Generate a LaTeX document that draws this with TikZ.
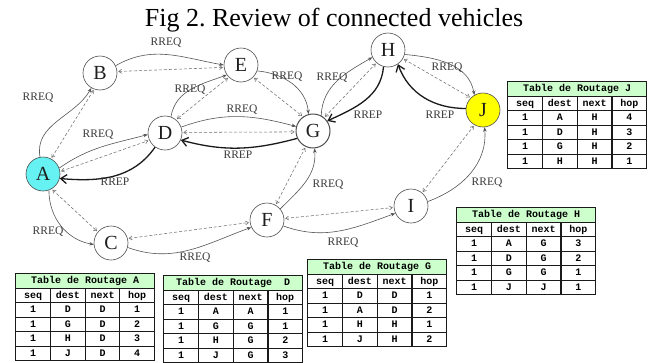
\documentclass[tikz,border=0pt]{standalone}
\usepackage{fontspec}
\setmainfont{Liberation Serif}
\newfontfamily\routefont{Liberation Mono}
\usepackage{array}
\usepackage{colortbl}
\usetikzlibrary{arrows.meta,calc,positioning}
\definecolor{ink}{HTML}{1E1E1E}
\definecolor{nodegrey}{HTML}{4D4D4D}
\definecolor{reqgrey}{HTML}{555555}
\definecolor{dashgrey}{HTML}{707070}
\definecolor{repblack}{HTML}{1A1A1A}
\definecolor{labelgrey}{HTML}{3A3A3A}
\definecolor{sourcecyan}{HTML}{66F2F2}
\definecolor{destyellow}{HTML}{FFFF00}
\definecolor{tablegreen}{HTML}{CCFFCC}
\definecolor{tablerule}{HTML}{1A1A1A}
\newcolumntype{C}{>{\centering\arraybackslash}p{33.5pt}}
\setlength{\tabcolsep}{0pt}
\setlength{\arrayrulewidth}{1.2pt}
\renewcommand{\arraystretch}{1.33}

\begin{document}
\begin{tikzpicture}[
  x=1pt,
  y=1pt,
  vnode/.style={
    circle,
    draw=nodegrey,
    line width=0.6pt,
    minimum size=34pt,
    inner sep=0pt,
    text=ink,
    font=\fontsize{20}{22}\selectfont
  },
  rreq/.style={
    -{Stealth[length=4.5pt,width=3.5pt]},
    draw=reqgrey,
    line width=0.6pt
  },
  probe/.style={
    {Straight Barb[length=3pt,width=4pt]}-{Straight Barb[length=3pt,width=4pt]},
    draw=dashgrey,
    dash pattern=on 3pt off 2pt,
    line width=0.55pt,
    shorten <=1pt,
    shorten >=1pt
  },
  rrep/.style={
    -{Straight Barb[length=6pt,width=9pt]},
    draw=repblack,
    line width=1.3pt
  },
  msg/.style={
    text=labelgrey,
    inner sep=1pt,
    font=\fontsize{11.5}{13}\selectfont
  },
  routetable/.style={
    anchor=north west,
    inner sep=0pt,
    font=\routefont\bfseries\fontsize{10}{10}\selectfont
  }
]

\path[use as bounding box,fill=white] (0,0) rectangle (651,-362);

\node[font=\fontsize{26}{28}\selectfont,anchor=base] (title) at (334,-26)
  {Fig 2.\ Review of connected vehicles};

\node[vnode,fill=sourcecyan] (A) at (43,-174) {A};
\node[vnode] (B) at (100,-73) {B};
\node[vnode] (C) at (111,-243) {C};
\node[vnode] (D) at (165,-133) {D};
\node[vnode] (E) at (241,-65) {E};
\node[vnode] (F) at (267,-220) {F};
\node[vnode,line width=1pt] (G) at (313,-131) {G};
\node[vnode] (H) at (388,-50) {H};
\node[vnode] (I) at (411,-206) {I};
\node[vnode,fill=destyellow] (J) at (483,-110) {J};

\draw[rreq] (A.100) to[out=100,in=240] (B.240);
\draw[probe] (B.250) -- (A.62);
\draw[rreq] (A.290) to[out=270,in=170] (C.185);
\draw[probe] (A.300) -- (C.140);
\draw[rreq] (A.20) to[out=35,in=195] (D.185);
\draw[probe] (A.8) -- (D.205);
\draw[rrep] (D.235) to[out=235,in=-5] (A.345);

\draw[rreq] (B.25) to[out=30,in=170] (E.180);
\draw[probe] (B.5) -- (E.188);

\draw[rreq] (D.70) to[out=80,in=200] (E.215);
\draw[probe] (E.225) -- (D.50);
\draw[rreq] (D.20) to[out=20,in=165] (G.165);
\draw[probe] (D.2) -- (G.183);
\draw[rrep] (G.205) to[out=195,in=-15] (D.336);

\draw[rreq] (E.340) to[out=-5,in=95] (G.105);
\draw[probe] (E.315) -- (G.125);

\draw[rreq] (G.62) to[out=88,in=210] (H.205);
\draw[probe] (G.50) -- (H.228);
\draw[rrep] (H.255) to[out=265,in=25] (G.35);

\draw[rreq] (H.345) to[out=-5,in=100] (J.120);
\draw[probe] (H.330) -- (J.135);
\draw[rrep] (J.175) to[out=180,in=-70] (H.305);

\draw[rreq] (C.345) to[out=-20,in=200] (F.205);
\draw[probe] (C.15) -- (F.188);
\draw[rreq] (F.40) to[out=45,in=275] (G.275);
\draw[probe] (F.60) -- (G.245);
\draw[rreq] (F.340) to[out=-20,in=200] (I.205);
\draw[probe] (F.5) -- (I.185);
\draw[rreq] (I.15) to[out=20,in=275] (J.275);
\draw[probe] (I.50) -- (J.240);

\node[msg] (qAB) at (38,-98) {RREQ};
\node[msg] (qAC) at (48,-232) {RREQ};
\node[msg] (qAD) at (98,-135) {RREQ};
\node[msg] (pDA) at (115,-182) {RREP};
\node[msg] (qBE) at (166,-43) {RREQ};
\node[msg] (qDE) at (190,-90) {RREQ};
\node[msg] (qEG) at (287,-77) {RREQ};
\node[msg] (qDG) at (242,-110) {RREQ};
\node[msg] (pGD) at (238,-155) {RREP};
\node[msg] (qGH) at (332,-78) {RREQ};
\node[msg] (pHG) at (368,-115) {RREP};
\node[msg] (qHJ) at (447,-68) {RREQ};
\node[msg] (pJH) at (440,-115) {RREP};
\node[msg] (qCF) at (195,-258) {RREQ};
\node[msg] (qFG) at (328,-185) {RREQ};
\node[msg] (qFI) at (343,-243) {RREQ};
\node[msg] (qIJ) at (487,-183) {RREQ};

\node[routetable] (tabJ) at (507,-81) {\arrayrulecolor{tablerule}%
  \begin{tabular}{|C|C|C|C|}
    \hline
    \multicolumn{4}{|c|}{\cellcolor{tablegreen}Table de Routage J}\\ \hline
    seq & dest & next & hop\\ \hline
    1 & A & H & 4\\ \hline
    1 & D & H & 3\\ \hline
    1 & G & H & 2\\ \hline
    1 & H & H & 1\\ \hline
  \end{tabular}};

\node[routetable] (tabH) at (456,-207) {\arrayrulecolor{tablerule}%
  \begin{tabular}{|C|C|C|C|}
    \hline
    \multicolumn{4}{|c|}{\cellcolor{tablegreen}Table de Routage H}\\ \hline
    seq & dest & next & hop\\ \hline
    1 & A & G & 3\\ \hline
    1 & D & G & 2\\ \hline
    1 & G & G & 1\\ \hline
    1 & J & J & 1\\ \hline
  \end{tabular}};

\node[routetable] (tabG) at (307,-259) {\arrayrulecolor{tablerule}%
  \begin{tabular}{|C|C|C|C|}
    \hline
    \multicolumn{4}{|c|}{\cellcolor{tablegreen}Table de Routage G}\\ \hline
    seq & dest & next & hop\\ \hline
    1 & D & D & 1\\ \hline
    1 & A & D & 2\\ \hline
    1 & H & H & 1\\ \hline
    1 & J & H & 2\\ \hline
  \end{tabular}};

\node[routetable] (tabA) at (15,-273) {\arrayrulecolor{tablerule}%
  \begin{tabular}{|C|C|C|C|}
    \hline
    \multicolumn{4}{|c|}{\cellcolor{tablegreen}Table de Routage A}\\ \hline
    seq & dest & next & hop\\ \hline
    1 & D & D & 1\\ \hline
    1 & G & D & 2\\ \hline
    1 & H & D & 3\\ \hline
    1 & J & D & 4\\ \hline
  \end{tabular}};

\node[routetable] (tabD) at (163,-275) {\arrayrulecolor{tablerule}%
  \begin{tabular}{|C|C|C|C|}
    \hline
    \multicolumn{4}{|c|}{\cellcolor{tablegreen}Table de Routage\ \ D}\\ \hline
    seq & dest & next & hop\\ \hline
    1 & A & A & 1\\ \hline
    1 & G & G & 1\\ \hline
    1 & H & G & 2\\ \hline
    1 & J & G & 3\\ \hline
  \end{tabular}};

\end{tikzpicture}
\end{document}
